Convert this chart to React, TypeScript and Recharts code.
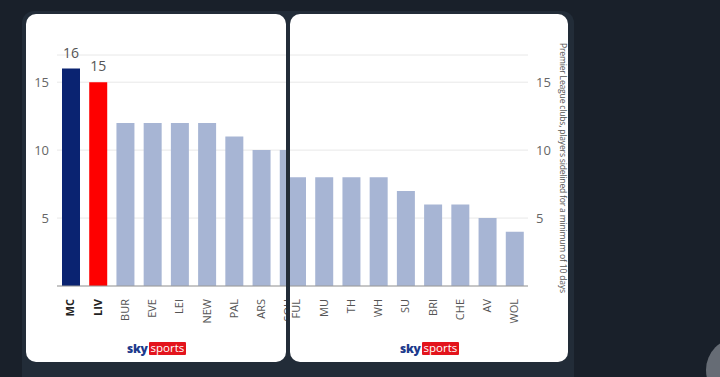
import React from 'react';
import { BarChart, Bar, XAxis, YAxis, CartesianGrid, Cell, LabelList } from 'recharts';

// clubs and players sidelined (10+ days), split across the two panels
const leftTeams = ['MC', 'LIV', 'BUR', 'EVE', 'LEI', 'NEW', 'PAL', 'ARS', 'SOU'];
const leftValues = [16, 15, 12, 12, 12, 12, 11, 10, 10];
const rightTeams = ['FUL', 'MU', 'TH', 'WH', 'SU', 'BRI', 'CHE', 'AV', 'WOL'];
const rightValues = [8, 8, 8, 8, 7, 6, 6, 5, 4];
const yTicks = [5, 10, 15];
const highlighted = ['MC', 'LIV'];
const labelled = ['MC', 'LIV'];

const font = '"Open Sans", sans-serif';
const barColor = (team: string) => (team === 'MC' ? '#0a2371' : team === 'LIV' ? '#fe0000' : '#a7b5d4');

const leftData = leftTeams.map((team, i) => ({ team, value: leftValues[i] }));
const rightData = rightTeams.map((team, i) => ({ team, value: rightValues[i] }));

const TeamTick = (props: any) => {
    const { x, y, payload } = props;
    const bold = highlighted.includes(payload.value);
    return (
        <g transform={`translate(${x},${y + 5})`}>
            <text transform="rotate(-90)" textAnchor="end" dy="0.35em" fontSize={11} fontFamily={font}
                  fontWeight={bold ? 700 : 400} fill={bold ? '#222' : '#555'}>{payload.value}</text>
        </g>
    );
};

const ValueLabel = (props: any) => {
    const { x, y, width, value, index } = props;
    if (!labelled.includes(leftTeams[index])) return null;
    return (
        <text x={x + width / 2} y={y - 11} textAnchor="middle" fontSize={14} fontFamily={font} fill="#555">{value}</text>
    );
};

const SkyLogo = ({ left }: { left: number }) => (
    <div style={{ position: 'absolute', left, top: 326, display: 'flex', alignItems: 'center', fontFamily: font }}>
        <span style={{ color: '#1c3a8c', fontWeight: 800, fontSize: 12, letterSpacing: -0.3, marginRight: 1 }}>sky</span>
        <span style={{ background: '#e3141c', color: '#fff', fontSize: 11.5, lineHeight: '12px', padding: '0 2px 1px', borderRadius: 1 }}>sports</span>
    </div>
);

const chartProps = { width: 275, height: 322, margin: { top: 41, right: 0, bottom: 0, left: 0 } };

export default function App() {
    return (
        <div style={{ position: 'absolute', left: 0, top: 0, width: 720, height: 377, background: '#19202a', overflow: 'hidden' }}>
            <div style={{ position: 'absolute', left: 22, top: 11, width: 552, height: 380, background: '#222c38', borderRadius: 12 }} />
            <div style={{ position: 'absolute', left: 706, top: 338, width: 64, height: 64, borderRadius: '50%', background: '#666c75' }} />

            <div style={{ position: 'absolute', left: 26, top: 14, width: 260, height: 348, background: '#fff', borderRadius: 10, overflow: 'hidden' }}>
                <div style={{ position: 'absolute', left: 1, top: 0 }}>
                    <BarChart data={leftData} {...chartProps}>
                        <CartesianGrid horizontal vertical={false} stroke="#e8e8e8" />
                        <XAxis dataKey="team" interval={0} height={50} tick={<TeamTick />} tickLine={false} axisLine={{ stroke: '#999' }} />
                        <YAxis width={30} domain={[0, 17]} ticks={yTicks} axisLine={false} tickLine={false}
                               tick={{ fill: '#666', fontSize: 13, fontFamily: font }} />
                        <Bar dataKey="value" barSize={18} isAnimationActive={false}>
                            {leftData.map((d) => <Cell key={d.team} fill={barColor(d.team)} />)}
                            <LabelList dataKey="value" content={<ValueLabel />} />
                        </Bar>
                    </BarChart>
                </div>
                <SkyLogo left={101} />
            </div>

            <div style={{ position: 'absolute', left: 290, top: 14, width: 278, height: 348, background: '#fff', borderRadius: 10, overflow: 'hidden' }}>
                <div style={{ position: 'absolute', left: -7, top: 0 }}>
                    <BarChart data={rightData} {...chartProps}>
                        <CartesianGrid horizontal vertical={false} stroke="#e8e8e8" />
                        <XAxis dataKey="team" interval={0} height={50} tick={<TeamTick />} tickLine={false} axisLine={{ stroke: '#999' }} />
                        <YAxis orientation="right" width={30} domain={[0, 17]} ticks={yTicks} axisLine={false} tickLine={false}
                               tick={{ fill: '#666', fontSize: 13, fontFamily: font }} />
                        <Bar dataKey="value" barSize={18} isAnimationActive={false}>
                            {rightData.map((d) => <Cell key={d.team} fill={barColor(d.team)} />)}
                        </Bar>
                    </BarChart>
                </div>
                <SkyLogo left={110} />
                <div style={{ position: 'absolute', left: 267, top: 29, writingMode: 'vertical-rl', fontSize: 8.6, color: '#555',
                              fontFamily: font, whiteSpace: 'nowrap', letterSpacing: -0.2 }}>
                    Premier League clubs, players sidelined for a minimum of 10 days
                </div>
            </div>
        </div>
    );
}
